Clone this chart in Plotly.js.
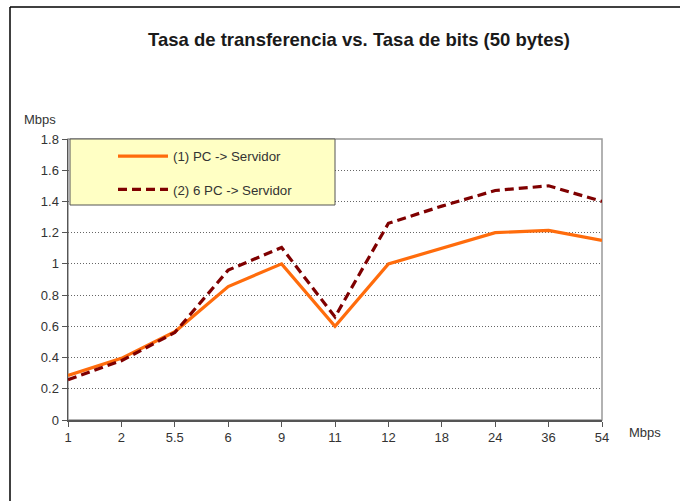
<!DOCTYPE html>
<html>
<head>
<meta charset="utf-8">
<script src="https://cdn.plot.ly/plotly-3.0.1.min.js"></script>
<style>html,body{margin:0;padding:0;background:#fff;}#chart{width:680px;height:501px;}</style>
</head>
<body>
<div id="chart"></div>
<script>
const categories = ['1', '2', '5.5', '6', '9', '11', '12', '18', '24', '36', '54'];
const serie1 = [0.285, 0.395, 0.565, 0.855, 1.0, 0.60, 1.0, 1.10, 1.20, 1.215, 1.15];
const serie2 = [0.258, 0.38, 0.56, 0.96, 1.105, 0.66, 1.26, 1.37, 1.47, 1.50, 1.40];
const names = ['(1) PC -> Servidor', '(2) 6 PC -> Servidor'];
const yTicks = [0, 0.2, 0.4, 0.6, 0.8, 1, 1.2, 1.4, 1.6, 1.8];
const yTickText = ['0', '0.2', '0.4', '0.6', '0.8', '1', '1.2', '1.4', '1.6', '1.8'];

const L = 68, R = 602, T = 139, B = 420, W = 680, H = 501;
const px = v => (v - L) / (R - L);
const py = v => (B - v) / (B - T);

const traces = [
  {x: categories, y: serie1, name: names[0], type: 'scatter', mode: 'lines',
   line: {color: '#FF6C0C', width: 3.2}, legendgroup: 'a'},
  {x: categories, y: serie2, name: names[1], type: 'scatter', mode: 'lines',
   line: {color: '#7F0000', width: 3.2, dash: '9px,5px'}, legendgroup: 'b'}
];

const font = {family: 'Arial, "Liberation Sans", sans-serif', color: '#333333', size: 13};

const layout = {
  width: W, height: H,
  margin: {l: L, r: W - R, t: T, b: H - B, pad: 0},
  paper_bgcolor: '#ffffff', plot_bgcolor: '#ffffff',
  font: font,
  title: {text: '<b>Tasa de transferencia vs. Tasa de bits (50 bytes)</b>',
          font: {family: 'Arial, "Liberation Sans", sans-serif', size: 18.5, color: '#1a1a1a'},
          x: px(359), xanchor: 'center', y: 1 - 40 / H, yanchor: 'middle', xref: 'paper'},
  xaxis: {type: 'category', range: [0, categories.length - 1], showgrid: false,
          showline: true, linecolor: '#555555', linewidth: 1.5,
          ticks: 'outside', ticklen: 5, tickcolor: '#555555', tickfont: font,
          zeroline: false, fixedrange: true},
  yaxis: {range: [0, 1.8], tickvals: yTicks, ticktext: yTickText,
          showgrid: true, gridcolor: '#666666', griddash: '1px,2px', gridwidth: 1,
          showline: true, linecolor: '#555555', linewidth: 1.5,
          ticks: 'outside', ticklen: 5, tickcolor: '#555555', tickfont: font,
          zeroline: false, fixedrange: true},
  showlegend: true,
  legend: {x: px(113), xanchor: 'left', y: py(141), yanchor: 'top',
           bgcolor: 'rgba(0,0,0,0)', borderwidth: 0, itemwidth: 50,
           font: {family: 'Arial, "Liberation Sans", sans-serif', size: 13.3, color: '#333333'},
           traceorder: 'grouped', tracegroupgap: 13},
  shapes: [
    {type: 'rect', xref: 'paper', yref: 'paper', x0: 0, x1: 1, y0: 0, y1: 1,
     line: {color: '#999999', width: 1.5}, layer: 'below'},
    {type: 'rect', xref: 'paper', yref: 'paper', x0: px(70), x1: px(335), y0: py(205), y1: py(139),
     fillcolor: '#FFFFC4', line: {color: '#555555', width: 1}, layer: 'above'},
    {type: 'line', xref: 'paper', yref: 'paper', x0: px(10), x1: px(10), y0: py(7), y1: py(H + 2),
     line: {color: '#000000', width: 1.5}},
    {type: 'line', xref: 'paper', yref: 'paper', x0: px(10), x1: px(W + 2), y0: py(7), y1: py(7),
     line: {color: '#000000', width: 1.5}}
  ],
  annotations: [
    {text: 'Mbps', xref: 'paper', yref: 'paper', x: px(40), y: py(119), xanchor: 'center', yanchor: 'middle',
     showarrow: false, font: font},
    {text: 'Mbps', xref: 'paper', yref: 'paper', x: px(645), y: py(432), xanchor: 'center', yanchor: 'middle',
     showarrow: false, font: font}
  ]
};

Plotly.newPlot('chart', traces, layout, {staticPlot: true, displayModeBar: false});
</script>
</body>
</html>
